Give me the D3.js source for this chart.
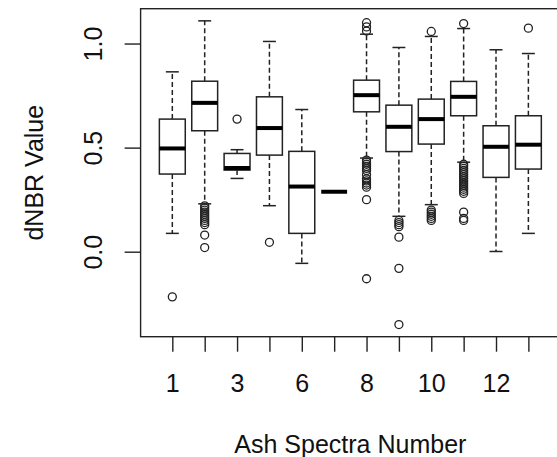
<!DOCTYPE html>
<html>
<head>
<meta charset="utf-8">
<script src="https://cdn.jsdelivr.net/npm/d3@7/dist/d3.min.js"></script>
<style>
  html, body { margin: 0; padding: 0; background: #fff; }
  svg { display: block; }
  text { font-family: "Liberation Sans", Arial, Helvetica, sans-serif; fill: #111; }
</style>
</head>
<body>
<svg id="chart" width="557" height="457"></svg>
<script>
// ---- data ----
const categories   = ["1","2","3","4","6","7","8","9","10","11","12","13"];
const lowerWhisker = [0.088, 0.23, 0.352, 0.221, -0.056, 0.288, 0.45, 0.17, 0.226, 0.43, 0.001, 0.088];
const q1           = [0.373, 0.581, 0.392, 0.464, 0.088, 0.288, 0.672, 0.481, 0.517, 0.653, 0.357, 0.397];
const medians      = [0.496, 0.715, 0.402, 0.594, 0.313, 0.288, 0.752, 0.600, 0.637, 0.744, 0.504, 0.514];
const q3           = [0.637, 0.819, 0.472, 0.744, 0.482, 0.288, 0.824, 0.704, 0.733, 0.818, 0.605, 0.653];
const upperWhisker = [0.864, 1.109, 0.490, 1.010, 0.683, 0.288, 1.045, 0.981, 1.034, 1.072, 0.970, 0.952];
const outliers = [
  [-0.217],
  [0.22, 0.21, 0.20, 0.19, 0.18, 0.17, 0.16, 0.15, 0.14, 0.13, 0.08, 0.02],
  [0.637],
  [0.045],
  [],
  [],
  [1.06, 1.08, 1.10, 0.44, 0.43, 0.42, 0.41, 0.40, 0.39, 0.37, 0.35, 0.34, 0.33, 0.32, 0.31, 0.25, -0.13],
  [0.15, 0.14, 0.13, 0.12, 0.07, -0.08, -0.35],
  [1.058, 0.20, 0.19, 0.18, 0.17, 0.16, 0.15],
  [1.096, 0.42, 0.41, 0.40, 0.39, 0.38, 0.37, 0.36, 0.35, 0.34, 0.33, 0.32, 0.31, 0.30, 0.29, 0.28, 0.19, 0.16, 0.15],
  [],
  [1.074]
];
const yTicks = [0.0, 0.5, 1.0];
const xLabelShown = ["1","3","6","8","10","12"];
const xTitle = "Ash Spectra Number";
const yTitle = "dNBR Value";

// ---- layout ----
const W = 557, H = 457;
const plot = { left: 140.6, right: 560.1, top: 8.7, bottom: 336.7 };
const stroke = "#222";

const svg = d3.select("#chart");
svg.append("rect").attr("width", W).attr("height", H).attr("fill", "#fff");

const n = categories.length;
// R-style limits: 0.5..n+0.5 extended by 4%
const xr = [0.5, n + 0.5];
const xpad = (xr[1] - xr[0]) * 0.04;
const x = d3.scaleLinear().domain([xr[0] - xpad, xr[1] + xpad]).range([plot.left, plot.right]);

const allVals = [].concat(lowerWhisker, upperWhisker, ...outliers);
const ymin = d3.min(allVals), ymax = d3.max(allVals);
const ypad = (ymax - ymin) * 0.04;
const y = d3.scaleLinear().domain([ymin - ypad, ymax + ypad]).range([plot.bottom, plot.top]);

const boxW = x(1.4) - x(1);   // half of 0.8 box width
const capW = boxW / 2;

const boxes = categories.map((c, i) => ({
  c, pos: i + 1, lw: lowerWhisker[i], q1: q1[i], med: medians[i], q3: q3[i], uw: upperWhisker[i], out: outliers[i]
}));

const g = svg.append("g");
const bx = g.selectAll("g.box").data(boxes).join("g").attr("class", "box");

// whiskers (dashed)
bx.append("line")
  .attr("x1", d => x(d.pos)).attr("x2", d => x(d.pos))
  .attr("y1", d => y(d.q3)).attr("y2", d => y(d.uw))
  .attr("stroke", stroke).attr("stroke-width", 1.5).attr("stroke-dasharray", "5,3");
bx.append("line")
  .attr("x1", d => x(d.pos)).attr("x2", d => x(d.pos))
  .attr("y1", d => y(d.q1)).attr("y2", d => y(d.lw))
  .attr("stroke", stroke).attr("stroke-width", 1.5).attr("stroke-dasharray", "5,3");
// caps
bx.append("line")
  .attr("x1", d => x(d.pos) - capW).attr("x2", d => x(d.pos) + capW)
  .attr("y1", d => y(d.uw)).attr("y2", d => y(d.uw))
  .attr("stroke", stroke).attr("stroke-width", 1.5);
bx.append("line")
  .attr("x1", d => x(d.pos) - capW).attr("x2", d => x(d.pos) + capW)
  .attr("y1", d => y(d.lw)).attr("y2", d => y(d.lw))
  .attr("stroke", stroke).attr("stroke-width", 1.5);
// box
bx.append("rect")
  .attr("x", d => x(d.pos) - boxW).attr("width", 2 * boxW)
  .attr("y", d => y(d.q3)).attr("height", d => Math.max(0, y(d.q1) - y(d.q3)))
  .attr("fill", "#fff").attr("stroke", stroke).attr("stroke-width", 1.5);
// median
bx.append("line")
  .attr("x1", d => x(d.pos) - boxW).attr("x2", d => x(d.pos) + boxW)
  .attr("y1", d => y(d.med)).attr("y2", d => y(d.med))
  .attr("stroke", "#000").attr("stroke-width", 4);
// outliers
bx.selectAll("circle").data(d => d.out.map(v => ({ pos: d.pos, v })))
  .join("circle")
  .attr("cx", d => x(d.pos)).attr("cy", d => y(d.v)).attr("r", 4)
  .attr("fill", "none").attr("stroke", stroke).attr("stroke-width", 1.3);

// frame
svg.append("rect")
  .attr("x", plot.left).attr("y", plot.top)
  .attr("width", plot.right - plot.left).attr("height", plot.bottom - plot.top)
  .attr("fill", "none").attr("stroke", stroke).attr("stroke-width", 1.4);

// y axis
const yAxis = d3.axisLeft(y).tickValues(yTicks).tickSize(16).tickFormat(d3.format(".1f"));
const ya = svg.append("g").attr("transform", `translate(${plot.left},0)`).call(yAxis);
ya.select(".domain").remove();
ya.selectAll(".tick line").attr("stroke", stroke).attr("stroke-width", 1.4);
ya.selectAll(".tick text").remove();
ya.selectAll(".tick").append("text")
  .attr("transform", "translate(-39,0) rotate(-90)")
  .attr("text-anchor", "middle")
  .attr("font-size", 25)
  .text(d => d3.format(".1f")(d));

// x axis
const xAxis = d3.axisBottom(x).tickValues(boxes.map(d => d.pos)).tickSize(15)
  .tickFormat(p => categories[p - 1]);
const xa = svg.append("g").attr("transform", `translate(0,${plot.bottom})`).call(xAxis);
xa.select(".domain").remove();
xa.selectAll(".tick line").attr("stroke", stroke).attr("stroke-width", 1.4);
xa.selectAll(".tick text")
  .attr("y", 55).attr("dy", 0)
  .attr("font-size", 25)
  .style("display", p => xLabelShown.includes(categories[p - 1]) ? null : "none");
svg.selectAll("g.tick text").attr("fill", "#111").attr("font-family", "Liberation Sans, Arial, sans-serif");

// titles
svg.append("text")
  .attr("x", (plot.left + plot.right) / 2).attr("y", 453)
  .attr("text-anchor", "middle").attr("font-size", 25)
  .text(xTitle);
svg.append("text")
  .attr("transform", `translate(43,${(plot.top + plot.bottom) / 2}) rotate(-90)`)
  .attr("text-anchor", "middle").attr("font-size", 25)
  .text(yTitle);
</script>
</body>
</html>
